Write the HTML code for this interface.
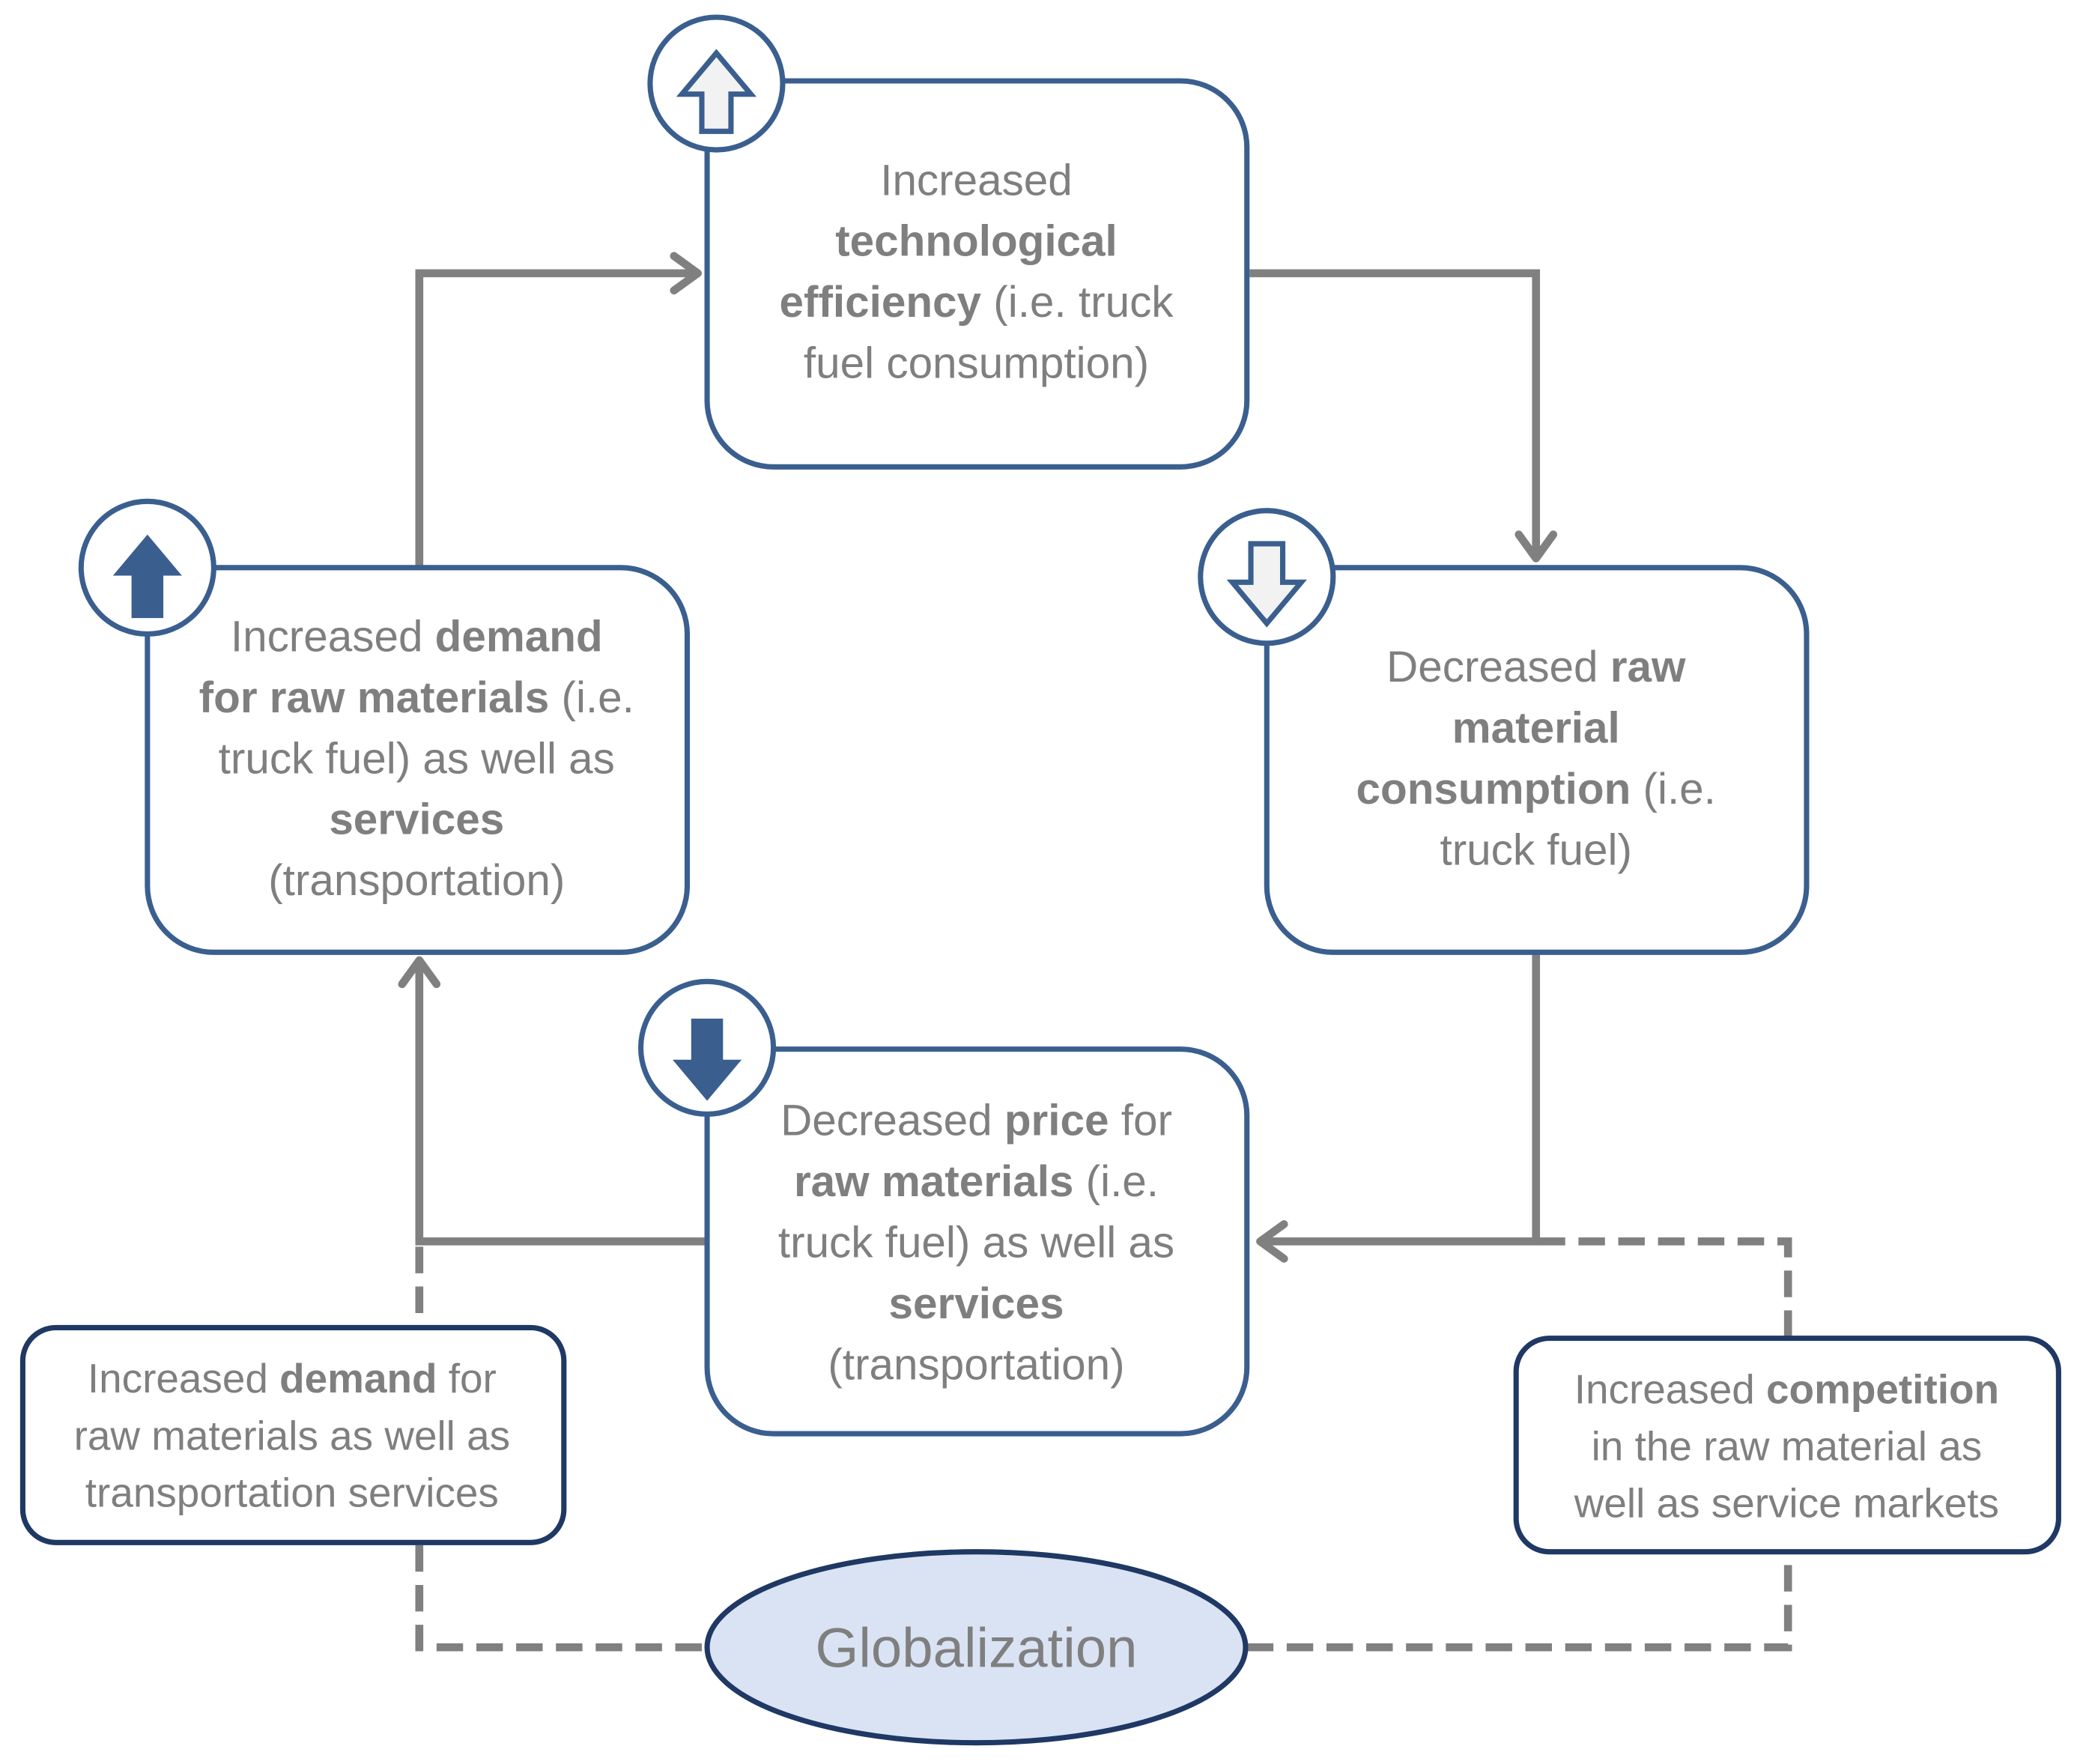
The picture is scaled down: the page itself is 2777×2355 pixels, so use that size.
<!DOCTYPE html>
<html><head><meta charset="utf-8"><style>html,body{margin:0;padding:0;background:#fff}svg{display:block}</style></head>
<body>
<svg width="2777" height="2355" viewBox="0 0 1568 1330" xmlns="http://www.w3.org/2000/svg" font-family="'Liberation Sans', sans-serif">
<rect width="1568" height="1330" fill="#fff"/>
<g fill="none" stroke="#808080" stroke-width="6">
<polyline points="316,428 316,206 526,206"/>
<polyline points="508,193 526,206 508,219" stroke-linecap="round" stroke-linejoin="round"/>
<polyline points="942,206 1158,206 1158,421"/>
<polyline points="1145,403 1158,421 1171,403" stroke-linecap="round" stroke-linejoin="round"/>
<polyline points="1158,718 1158,936 950,936"/>
<polyline points="968,923 950,936 968,949" stroke-linecap="round" stroke-linejoin="round"/>
<polyline points="533,936 316,936 316,724"/>
<polyline points="303,742 316,724 329,742" stroke-linecap="round" stroke-linejoin="round"/>
<g stroke-dasharray="20,10">
<polyline points="316,940 316,1001"/>
<polyline points="316,1165 316,1242 533,1242"/>
<polyline points="940,1242 1348,1242 1348,1172"/>
<polyline points="1348,1008 1348,936 1160,936"/>
</g>
</g>
<g fill="#fff" stroke="#3a5f8f" stroke-width="4">
<rect x="533" y="61" width="407" height="291" rx="50"/>
<rect x="111" y="428" width="407" height="290" rx="50"/>
<rect x="955" y="428" width="407" height="290" rx="50"/>
<rect x="533" y="791" width="407" height="290" rx="50"/>
<circle cx="540" cy="63" r="50"/>
<circle cx="111" cy="428" r="50"/>
<circle cx="955" cy="435" r="50"/>
<circle cx="533" cy="790" r="50"/>
</g>
<g fill="#fff" stroke="#1f3864" stroke-width="4">
<rect x="17" y="1001" width="408" height="162" rx="25"/>
<rect x="1143" y="1009" width="409" height="161" rx="25"/>
<ellipse cx="736" cy="1242" rx="203" ry="72" fill="#dae3f3"/>
</g>
<polygon points="540,40 514,71 529,71 529,99 551,99 551,71 566,71" fill="#f2f2f2" stroke="#3a5f8f" stroke-width="4"/>
<polygon points="111,403 85,434 99,434 99,466 123,466 123,434 137,434" fill="#3a5f8f"/>
<polygon points="955,470 929,439 943,439 943,410 967,410 967,439 981,439" fill="#f2f2f2" stroke="#3a5f8f" stroke-width="4"/>
<polygon points="533,830 507,799 521,799 521,768 545,768 545,799 559,799" fill="#3a5f8f"/>
<g fill="#7f7f7f" font-size="33" text-anchor="middle">
<text x="736" y="147">Increased</text>
<text x="736" y="193" font-weight="bold">technological</text>
<text x="736" y="239"><tspan font-weight="bold">efficiency</tspan> (i.e. truck</text>
<text x="736" y="285">fuel consumption)</text>
<text x="314" y="491">Increased <tspan font-weight="bold">demand</tspan></text>
<text x="314" y="537"><tspan font-weight="bold">for raw materials</tspan> (i.e.</text>
<text x="314" y="583">truck fuel) as well as</text>
<text x="314" y="629" font-weight="bold">services</text>
<text x="314" y="675">(transportation)</text>
<text x="1158" y="514">Decreased  <tspan font-weight="bold">raw</tspan></text>
<text x="1158" y="560" font-weight="bold">material</text>
<text x="1158" y="606"><tspan font-weight="bold">consumption</tspan> (i.e.</text>
<text x="1158" y="652">truck fuel)</text>
<text x="736" y="856">Decreased <tspan font-weight="bold">price</tspan> for</text>
<text x="736" y="902"><tspan font-weight="bold">raw materials</tspan> (i.e.</text>
<text x="736" y="948">truck fuel) as well as</text>
<text x="736" y="994" font-weight="bold">services</text>
<text x="736" y="1040">(transportation)</text>
</g>
<g fill="#7f7f7f" font-size="31" text-anchor="middle">
<text x="220" y="1050">Increased <tspan font-weight="bold">demand</tspan> for</text>
<text x="220" y="1093">raw materials as well as</text>
<text x="220" y="1136">transportation services</text>
<text x="1347" y="1058">Increased <tspan font-weight="bold">competition</tspan></text>
<text x="1347" y="1101">in the raw material as</text>
<text x="1347" y="1144">well as service markets</text>
<text x="736" y="1257" font-size="42">Globalization</text>
</g>
</svg>
</body></html>
